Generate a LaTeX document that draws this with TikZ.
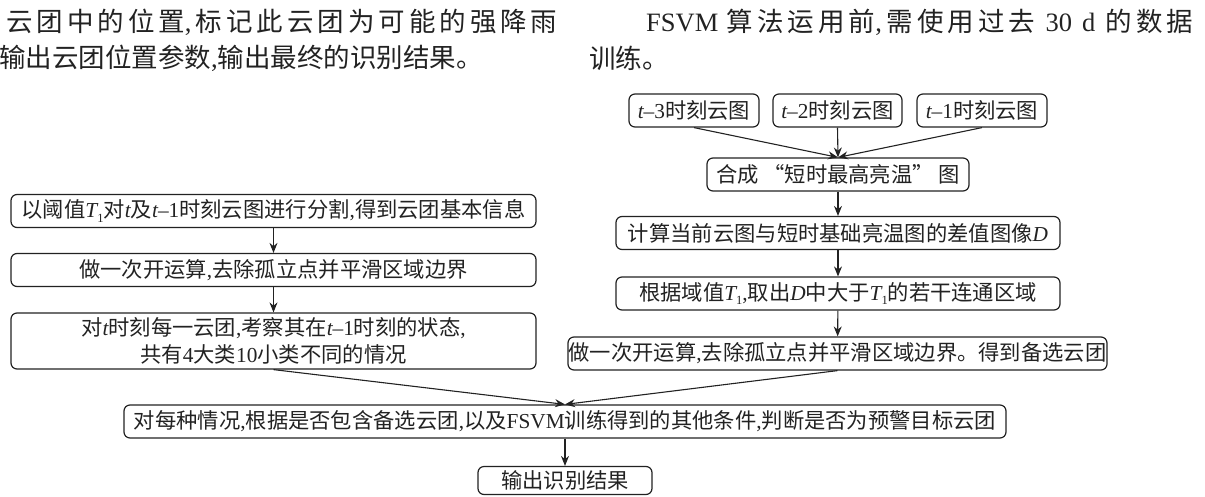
\documentclass[tikz,border=0pt]{standalone}
\usepackage{fontspec}
\setmainfont{Liberation Serif}
\newfontfamily\cjk{Noto Sans CJK SC}
\usetikzlibrary{arrows.meta}
\definecolor{ink}{HTML}{222222}
\newcommand\la[1]{{\rmfamily #1}}
\newcommand\tv{{\rmfamily\itshape t}}
\newcommand\Dv{{\rmfamily\itshape D}}
\newcommand\Tone{{\rmfamily\itshape T}\raisebox{-0.4ex}{\rmfamily\fontsize{12.5}{12.5}\selectfont 1}}
\tikzset{
  box/.style={draw=ink, line width=1.2pt, rounded corners=6pt, inner sep=0pt,
    font=\cjk\fontsize{21.3}{27}\selectfont, text=ink, align=center, minimum height=33pt},
  arr/.style={draw=ink, line width=1.1pt, -{Stealth[length=10pt,width=8pt]}},
  body/.style={inner sep=0pt, anchor=west, text=ink, font=\cjk\fontsize{26.5}{30}\selectfont}
}
\begin{document}
\begin{tikzpicture}[x=1pt,y=-1pt]
\useasboundingbox (0,0) rectangle (1205,496);
% running text
\node[body] (p1) at (6,22) {\makebox[524pt][s]{云 团 中 的 位 置\la{,} 标 记 此 云 团 为 可 能 的 强 降 雨}};
\node[body] (p2) at (-1,58) {输出云团位置参数\la{,}输出最终的识别结果。};
\node[body] (p3) at (646,22) {\makebox[547pt][s]{\la{FSVM}\hspace{4pt} 算 法 运 用 前\la{,} 需 使 用 过 去\hspace{6pt} \la{30}\hspace{6pt} \la{d}\hspace{6pt} 的 数 据}};
\node[body] (p4) at (589,58) {训练。};
% right column
\node[box, minimum width=130pt] (t3) at (694,110.5) {\tv\la{–3}时刻云图};
\node[box, minimum width=129pt] (t2) at (837.5,110.5) {\tv\la{–2}时刻云图};
\node[box, minimum width=130pt] (t1) at (982,110.5) {\tv\la{–1}时刻云图};
\node[box, minimum width=262pt] (hc) at (838,174.5) {合成 “短时最高亮温” 图};
\node[box, minimum width=444pt] (js) at (838,233) {计算当前云图与短时基础亮温图的差值图像\Dv};
\node[box, minimum width=444pt] (gj) at (838,293.5) {根据域值\Tone\la{,}取出\Dv 中大于\Tone 的若干连通区域};
\node[box, minimum width=539pt] (zy) at (837.5,353.5) {做一次开运算\la{,}去除孤立点并平滑区域边界。得到备选云团};
% left column
\node[box, minimum width=525pt] (l1) at (273.5,211) {以阈值\Tone 对\tv 及\tv\la{–1}时刻云图进行分割\la{,}得到云团基本信息};
\node[box, minimum width=525pt] (l2) at (273.5,270) {做一次开运算\la{,}去除孤立点并平滑区域边界};
\node[box, minimum width=525pt, minimum height=56pt] (l3) at (273.5,341) {对\tv 时刻每一云团\la{,}考察其在\tv\la{–1}时刻的状态\la{,}\\共有\la{4}大类\la{10}小类不同的情况};
% bottom
\node[box, minimum width=882pt] (db) at (565,421.5) {对每种情况\la{,}根据是否包含备选云团\la{,}以及\la{FSVM}训练得到的其他条件\la{,}判断是否为预警目标云团};
\node[box, minimum width=174pt, minimum height=28pt] (sc) at (565,480.5) {输出识别结果};
% connectors
\draw[arr] (t3.south) -- (hc.north);
\draw[arr] (t2.south) -- (hc.north);
\draw[arr] (t1.south) -- (hc.north);
\draw[arr] (hc) -- (js);
\draw[arr] (js) -- (gj);
\draw[arr] (gj) -- (zy);
\draw[arr] (l1) -- (l2);
\draw[arr] (l2) -- (l3);
\draw[arr] (l3.south) -- (db.north);
\draw[arr] (zy.south) -- (db.north);
\draw[arr] (db) -- (sc);
\end{tikzpicture}
\end{document}
